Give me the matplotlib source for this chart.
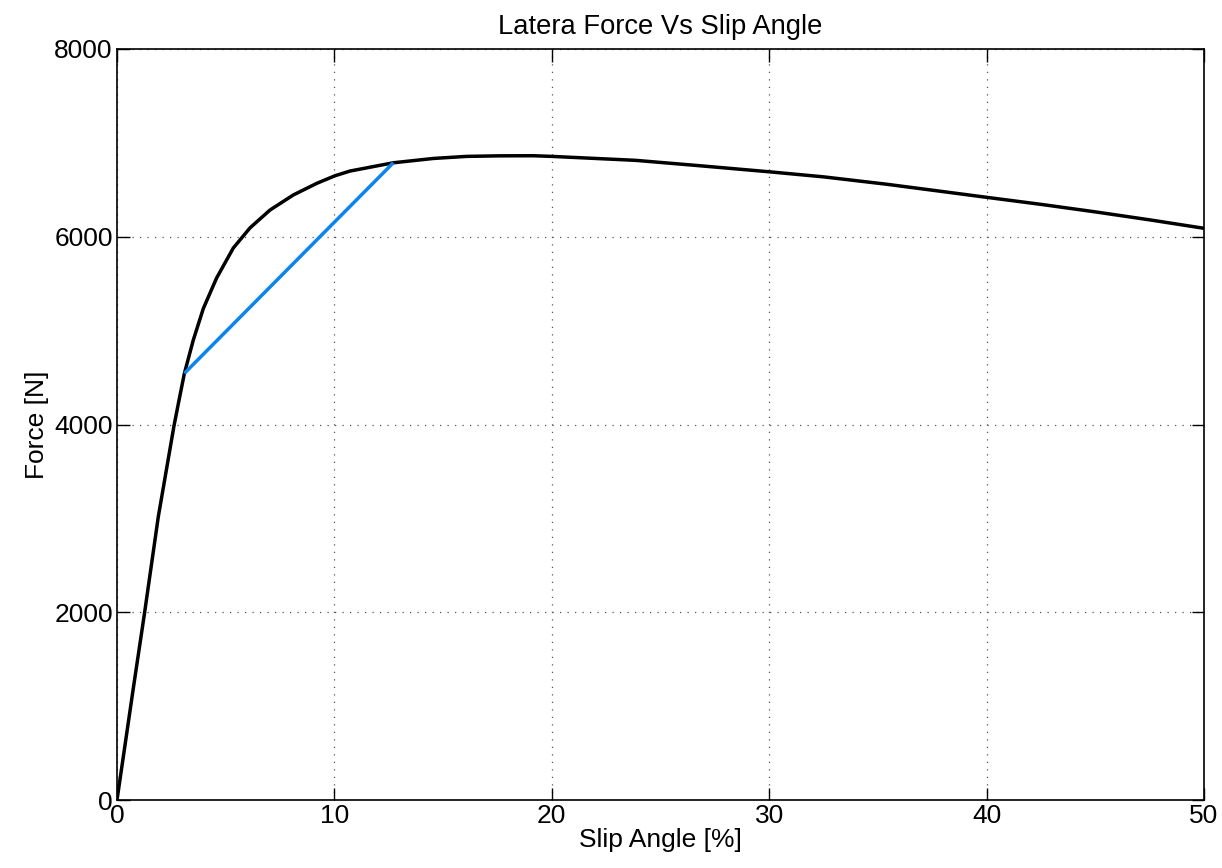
import matplotlib
matplotlib.use('Agg')
import matplotlib.pyplot as plt

plt.rcParams['font.family'] = ['Liberation Sans', 'DejaVu Sans']

# lateral force curve
slip = [0, 0.75, 1.26, 1.90, 2.62, 2.87, 3.10, 3.51, 3.97, 4.58, 5.35,
        6.12, 7.04, 8.11, 9.19, 10.03, 10.72, 12.71, 14.55, 16.08, 17.6,
        19.15, 20.0, 23.85, 26.73, 30.0, 32.5, 35.38, 37.5, 40.0, 42.5,
        45.0, 47.5, 50.0]
force = [0, 1190, 1981, 3018, 3984, 4279, 4545, 4900, 5235, 5560, 5880,
         6095, 6285, 6445, 6569, 6650, 6700, 6788, 6834, 6856, 6862,
         6863, 6856, 6814, 6758, 6692, 6638, 6560, 6496, 6420, 6345,
         6265, 6180, 6090]

# linear segment (blue)
lin_slip = [3.10, 12.71]
lin_force = [4545, 6788]

fig = plt.figure(figsize=(12.22, 8.68), dpi=100)
ax = fig.add_axes([117/1222, 68/868, 1087/1222, 751/868])

ax.plot(slip, force, color='black', lw=2.5)
ax.plot(lin_slip, lin_force, color='#0a84f0', lw=2.5, solid_capstyle='butt')

ax.set_xlim(0, 50)
ax.set_ylim(0, 8000)
ax.set_xticks([0, 10, 20, 30, 40, 50])
ax.set_yticks([0, 2000, 4000, 6000, 8000])
ax.grid(True, linestyle=(0, (1, 5)), color='#555555', lw=0.9)
ax.tick_params(direction='in', length=9, width=1, top=True, right=True,
               labelsize=19, pad=3)
for s in ax.spines.values():
    s.set_linewidth(1.2)

ax.set_xlabel('Slip Angle [%]', fontsize=19, labelpad=0)
ax.set_ylabel('Force [N]', fontsize=19, labelpad=4)
ax.set_title('Latera Force Vs Slip Angle', fontsize=19.7, pad=11)

fig.savefig('out.png', dpi=100)
